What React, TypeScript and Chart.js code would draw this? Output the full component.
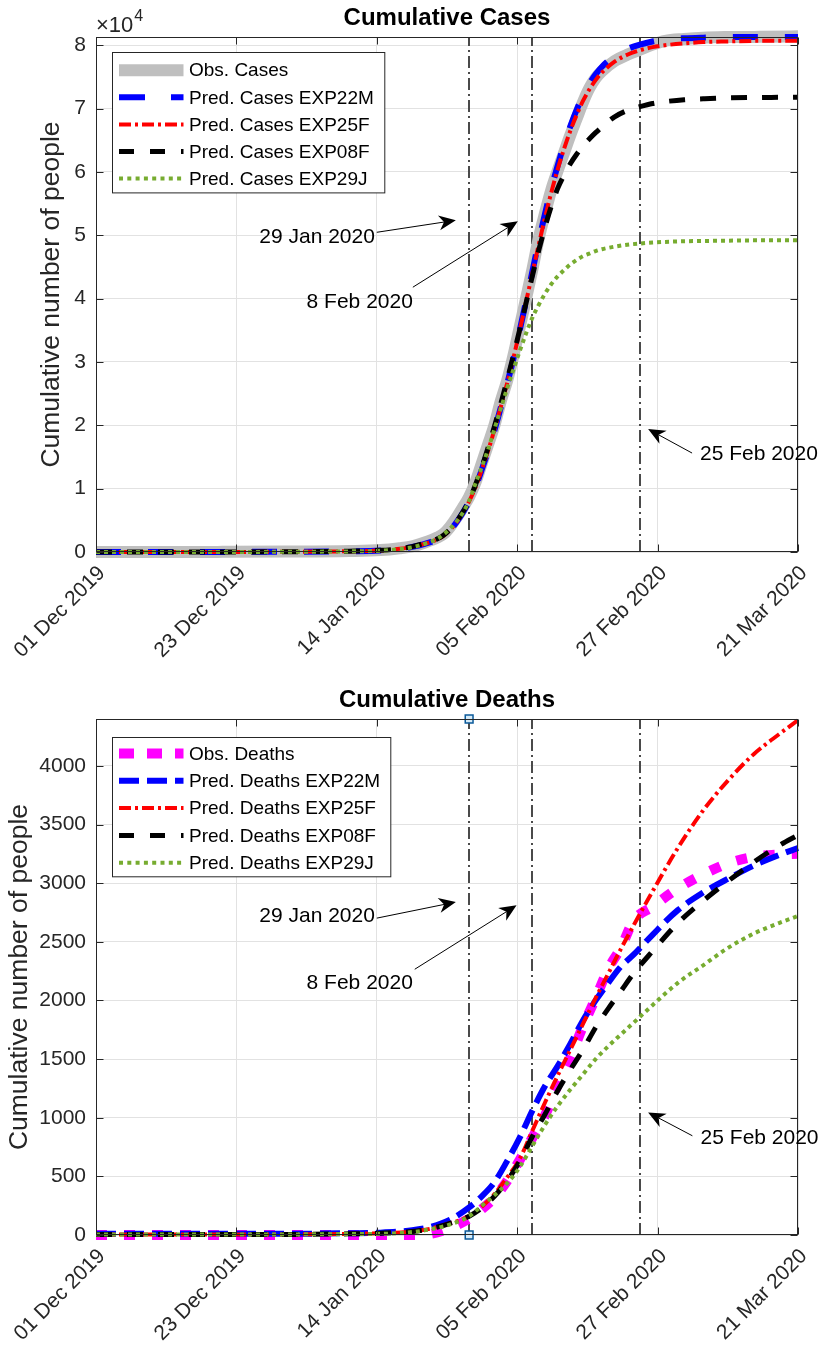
import React, { useEffect, useRef } from "react";
import { Chart, registerables } from "chart.js";

Chart.register(...registerables);

const FONT = '"Liberation Sans", Arial, Helvetica, sans-serif';
const AXIS = "#262626";
const GRID = "#e2e2e2";

// ---------------- data ----------------
const X_MAX_DAY = 111; // days after 01 Dec 2019
const X_TICK_LABELS = ["01 Dec 2019", "23 Dec 2019", "14 Jan 2020", "05 Feb 2020", "27 Feb 2020", "21 Mar 2020"];
const EVENT_DAYS = [59, 69, 86];
const EVENT_LABELS = ["29 Jan 2020", "8 Feb 2020", "25 Feb 2020"];

const CASE_DAYS = [0, 10, 20, 30, 40, 45, 48, 50, 52, 54, 55, 56, 57, 58, 59, 60, 61, 62, 63, 64, 65, 66, 67, 68, 69, 70, 71, 72, 73, 74, 75, 76, 77, 78, 79, 80, 82, 84, 86, 88, 90, 93, 96, 100, 105, 111];
const OBS_CASES = [0, 0, 20, 60, 150, 300, 600, 900, 1500, 2300, 2900, 4000, 5400, 7000, 8700, 11000, 14000, 17000, 20000, 23800, 27000, 31000, 35500, 40000, 44600, 49500, 53500, 57200, 60200, 63000, 65800, 68400, 71000, 73200, 74800, 75900, 77500, 78500, 79300, 80100, 80700, 81000, 81200, 81300, 81350, 81400];
const PRED_CASES_EXP22M = [0, 0, 10, 40, 120, 250, 500, 800, 1300, 2000, 2600, 3500, 4700, 6200, 8000, 10200, 13000, 16000, 19200, 22800, 26500, 30500, 35000, 39600, 44300, 49000, 53400, 57400, 61000, 64300, 67200, 69800, 72000, 73900, 75400, 76600, 78300, 79400, 80100, 80600, 80900, 81100, 81200, 81280, 81300, 81300];
const PRED_CASES_EXP25F = [0, 0, 10, 40, 120, 250, 500, 800, 1300, 2000, 2600, 3500, 4700, 6200, 8000, 10200, 13000, 16000, 19300, 22900, 26600, 30600, 35000, 39500, 44000, 48500, 52800, 56800, 60400, 63600, 66500, 69000, 71200, 73000, 74500, 75700, 77400, 78500, 79200, 79700, 80000, 80300, 80500, 80600, 80700, 80700];
const PRED_CASES_EXP08F = [0, 0, 10, 40, 130, 260, 520, 850, 1400, 2100, 2700, 3600, 4800, 6300, 8100, 10600, 13400, 16500, 19800, 23400, 27100, 31000, 35100, 39300, 43600, 47600, 51300, 54600, 57400, 59500, 61300, 62800, 64100, 65200, 66200, 67100, 68700, 69700, 70300, 70800, 71100, 71400, 71550, 71700, 71750, 71800];
const PRED_CASES_EXP29J = [0, 0, 10, 30, 100, 200, 450, 750, 1300, 2100, 2800, 3700, 4800, 6200, 8100, 10800, 13400, 16200, 19400, 22600, 25800, 28800, 31700, 34500, 37000, 39000, 40800, 42300, 43500, 44500, 45400, 46100, 46700, 47100, 47500, 47800, 48200, 48500, 48700, 48850, 48950, 49050, 49100, 49150, 49200, 49200];
const CASES_Y_MAX = 81300;
const CASES_Y_TICKS = [0, 10000, 20000, 30000, 40000, 50000, 60000, 70000, 80000];
const CASES_Y_TICK_LABELS = ["0", "1", "2", "3", "4", "5", "6", "7", "8"];

const DEATH_DAYS = [0, 10, 20, 30, 40, 45, 50, 53, 56, 59, 61, 63, 65, 67, 69, 71, 73, 75, 77, 79, 81, 83, 85, 88, 92, 96, 100, 104, 108, 111];
const OBS_DEATHS = [0, 0, 0, 0, 0, 0, 0, 10, 60, 140, 220, 320, 460, 640, 830, 1020, 1280, 1510, 1780, 2020, 2270, 2450, 2680, 2800, 2955, 3075, 3170, 3225, 3245, 3250];
const PRED_DEATHS_EXP22M = [10, 10, 10, 10, 15, 20, 40, 70, 130, 235, 330, 450, 630, 830, 1060, 1270, 1440, 1630, 1830, 2000, 2150, 2290, 2390, 2560, 2770, 2920, 3040, 3150, 3240, 3300];
const PRED_DEATHS_EXP25F = [5, 5, 5, 5, 10, 15, 30, 55, 100, 160, 240, 350, 490, 650, 890, 1130, 1360, 1580, 1800, 2020, 2230, 2440, 2640, 2930, 3300, 3620, 3880, 4100, 4270, 4390];
const PRED_DEATHS_EXP08F = [5, 5, 5, 5, 10, 15, 30, 55, 100, 160, 230, 330, 460, 630, 840, 1030, 1230, 1410, 1580, 1770, 1930, 2080, 2230, 2420, 2660, 2850, 3020, 3180, 3320, 3410];
const PRED_DEATHS_EXP29J = [5, 5, 5, 5, 8, 10, 25, 50, 90, 160, 250, 340, 440, 580, 760, 940, 1100, 1240, 1370, 1500, 1610, 1710, 1810, 1960, 2150, 2300, 2450, 2570, 2660, 2720];
const DEATHS_Y_MAX = 4400;
const DEATHS_Y_TICKS = [0, 500, 1000, 1500, 2000, 2500, 3000, 3500, 4000];
const DEATHS_Y_TICK_LABELS = ["0", "500", "1000", "1500", "2000", "2500", "3000", "3500", "4000"];
const MARKER_DAYS = [59, 59];
const MARKER_VALUES = [0, 4400];

// ---------------- styles ----------------
type Style = { color: string; width: number; dash: number[]; legendDash: number[] };
const S_OBS_CASES: Style = { color: "#bfbfbf", width: 12, dash: [], legendDash: [] };
const S_OBS_DEATHS: Style = { color: "#ff00ff", width: 10, dash: [11, 17], legendDash: [15, 13] };
const S_BLUE_C: Style = { color: "#0000ff", width: 6, dash: [25, 27], legendDash: [26, 26] };
const S_BLUE_D: Style = { color: "#0000ff", width: 6, dash: [20, 8], legendDash: [20, 8] };
const S_RED: Style = { color: "#ff0000", width: 4, dash: [12, 4, 3, 4], legendDash: [12, 4, 3, 4] };
const S_BLACK: Style = { color: "#000000", width: 5, dash: [16, 15], legendDash: [15, 16] };
const S_GREEN: Style = { color: "#77ac30", width: 4, dash: [4, 4], legendDash: [4, 4.3] };

type Arrow = { text: string; align: "left" | "right"; at: number[]; tail: number[]; tip: number[] };
const CASE_ARROWS: Arrow[] = [
  { text: EVENT_LABELS[0], align: "right", at: [44.1, 49700], tail: [44.4, 50470], tip: [56.9, 52370] },
  { text: EVENT_LABELS[1], align: "right", at: [50.1, 39430], tail: [50.1, 41800], tip: [66.7, 52200] },
  { text: EVENT_LABELS[2], align: "left", at: [95.5, 15460], tail: [94.25, 15620], tip: [87.3, 19400] },
];
const DEATH_ARROWS: Arrow[] = [
  { text: EVENT_LABELS[0], align: "right", at: [44.1, 2717], tail: [44.4, 2702], tip: [56.9, 2839] },
  { text: EVENT_LABELS[1], align: "right", at: [50.1, 2147], tail: [50.4, 2266], tip: [66.5, 2811] },
  { text: EVENT_LABELS[2], align: "left", at: [95.6, 826], tail: [94.3, 846], tip: [87.3, 1045] },
];

type Series = { label: string; days: number[]; values: number[]; style: Style };
type PanelSpec = {
  height: number;
  areaTop: number;
  xAxisHeight: number;
  title: string;
  yLabel: string;
  yLabelX: number;
  exponent: boolean;
  yMax: number;
  yTicks: number[];
  yTickLabels: string[];
  series: Series[];
  legend: { dx: number; dy: number; w: number; h: number; first: number; rowH: number };
  arrows: Arrow[];
  markers?: { days: number[]; values: number[] };
};

const CASES_SPEC: PanelSpec = {
  height: 675,
  areaTop: 37,
  xAxisHeight: 123,
  title: "Cumulative Cases",
  yLabel: "Cumulative number of people",
  yLabelX: 52,
  exponent: true,
  yMax: CASES_Y_MAX,
  yTicks: CASES_Y_TICKS,
  yTickLabels: CASES_Y_TICK_LABELS,
  series: [
    { label: "Obs. Cases", days: CASE_DAYS, values: OBS_CASES, style: S_OBS_CASES },
    { label: "Pred. Cases EXP22M", days: CASE_DAYS, values: PRED_CASES_EXP22M, style: S_BLUE_C },
    { label: "Pred. Cases EXP25F", days: CASE_DAYS, values: PRED_CASES_EXP25F, style: S_RED },
    { label: "Pred. Cases EXP08F", days: CASE_DAYS, values: PRED_CASES_EXP08F, style: S_BLACK },
    { label: "Pred. Cases EXP29J", days: CASE_DAYS, values: PRED_CASES_EXP29J, style: S_GREEN },
  ],
  legend: { dx: 15.7, dy: 15.3, w: 272.3, h: 140.4, first: 17.7, rowH: 27.1 },
  arrows: CASE_ARROWS,
};

const DEATHS_SPEC: PanelSpec = {
  height: 672,
  areaTop: 44,
  xAxisHeight: 112,
  title: "Cumulative Deaths",
  yLabel: "Cumulative number of people",
  yLabelX: 20,
  exponent: false,
  yMax: DEATHS_Y_MAX,
  yTicks: DEATHS_Y_TICKS,
  yTickLabels: DEATHS_Y_TICK_LABELS,
  series: [
    { label: "Obs. Deaths", days: DEATH_DAYS, values: OBS_DEATHS, style: S_OBS_DEATHS },
    { label: "Pred. Deaths EXP22M", days: DEATH_DAYS, values: PRED_DEATHS_EXP22M, style: S_BLUE_D },
    { label: "Pred. Deaths EXP25F", days: DEATH_DAYS, values: PRED_DEATHS_EXP25F, style: S_RED },
    { label: "Pred. Deaths EXP08F", days: DEATH_DAYS, values: PRED_DEATHS_EXP08F, style: S_BLACK },
    { label: "Pred. Deaths EXP29J", days: DEATH_DAYS, values: PRED_DEATHS_EXP29J, style: S_GREEN },
  ],
  legend: { dx: 15.7, dy: 17.7, w: 278.3, h: 139.3, first: 16, rowH: 27.3 },
  arrows: DEATH_ARROWS,
  markers: { days: MARKER_DAYS, values: MARKER_VALUES },
};

// ---------------- drawing helpers ----------------
function drawArrow(ctx: CanvasRenderingContext2D, x0: number, y0: number, x1: number, y1: number) {
  const ang = Math.atan2(y1 - y0, x1 - x0);
  const c = Math.cos(ang);
  const s = Math.sin(ang);
  const L = 17, W = 7.5, N = 12;
  const pt = (u: number, v: number) => [x1 - u * c - v * s, y1 - u * s + v * c];
  ctx.save();
  ctx.setLineDash([]);
  ctx.strokeStyle = "#000";
  ctx.lineWidth = 1;
  const b = pt(N, 0);
  ctx.beginPath();
  ctx.moveTo(x0, y0);
  ctx.lineTo(b[0], b[1]);
  ctx.stroke();
  ctx.fillStyle = "#000";
  ctx.beginPath();
  ctx.moveTo(x1, y1);
  let p = pt(L, W);
  ctx.lineTo(p[0], p[1]);
  p = pt(N, 0);
  ctx.lineTo(p[0], p[1]);
  p = pt(L, -W);
  ctx.lineTo(p[0], p[1]);
  ctx.closePath();
  ctx.fill();
  ctx.restore();
}

function decorPlugin(spec: PanelSpec) {
  return {
    id: "decor",
    beforeDatasetsDraw(chart: any) {
      const { ctx, chartArea: a, scales } = chart;
      const x = scales.x;
      ctx.save();
      ctx.beginPath();
      ctx.rect(a.left, a.top, a.right - a.left, a.bottom - a.top);
      ctx.clip();
      ctx.strokeStyle = "#4a4a4a";
      ctx.lineWidth = 2;
      ctx.setLineDash([12, 4, 2, 4]);
      for (const d of EVENT_DAYS) {
        const px = Math.round(x.getPixelForValue(d));
        ctx.beginPath();
        ctx.moveTo(px, a.bottom);
        ctx.lineTo(px, a.top);
        ctx.stroke();
      }
      ctx.restore();
    },
    afterDatasetsDraw(chart: any) {
      const { ctx, chartArea: a, scales } = chart;
      const x = scales.x;
      const y = scales.y;
      ctx.save();
      // axes box
      ctx.setLineDash([]);
      ctx.strokeStyle = AXIS;
      ctx.lineWidth = 1;
      const L = Math.round(a.left) + 0.5, R = Math.round(a.right) - 0.5;
      const T = Math.round(a.top) + 0.5, B = Math.round(a.bottom) - 0.5;
      ctx.strokeRect(L, T, R - L, B - T);
      // inward ticks
      const tl = 7;
      ctx.beginPath();
      for (const t of x.ticks) {
        const px = Math.round(x.getPixelForValue(t.value)) + 0.5;
        ctx.moveTo(px, B); ctx.lineTo(px, B - tl);
        ctx.moveTo(px, T); ctx.lineTo(px, T + tl);
      }
      for (const t of y.ticks) {
        const py = Math.round(y.getPixelForValue(t.value)) + 0.5;
        ctx.moveTo(L, py); ctx.lineTo(L + tl, py);
        ctx.moveTo(R, py); ctx.lineTo(R - tl, py);
      }
      ctx.stroke();

      // annotations
      ctx.font = `21px ${FONT}`;
      ctx.fillStyle = "#000";
      ctx.textBaseline = "middle";
      for (const ar of spec.arrows) {
        drawArrow(
          ctx,
          x.getPixelForValue(ar.tail[0]), y.getPixelForValue(ar.tail[1]),
          x.getPixelForValue(ar.tip[0]), y.getPixelForValue(ar.tip[1])
        );
        ctx.textAlign = ar.align;
        ctx.fillStyle = "#000";
        ctx.font = `21px ${FONT}`;
        ctx.textBaseline = "middle";
        ctx.fillText(ar.text, x.getPixelForValue(ar.at[0]), y.getPixelForValue(ar.at[1]));
      }

      // legend
      const lg = spec.legend;
      const bx = Math.round(a.left + lg.dx) + 0.5;
      const by = Math.round(a.top + lg.dy) + 0.5;
      ctx.fillStyle = "#fff";
      ctx.fillRect(bx, by, lg.w, lg.h);
      ctx.strokeStyle = AXIS;
      ctx.lineWidth = 1;
      ctx.setLineDash([]);
      ctx.strokeRect(bx, by, lg.w, lg.h);
      spec.series.forEach((s, i) => {
        const yy = by + lg.first + i * lg.rowH;
        ctx.save();
        ctx.strokeStyle = s.style.color;
        ctx.lineWidth = s.style.width;
        ctx.lineCap = "butt";
        ctx.setLineDash(s.style.legendDash);
        ctx.beginPath();
        ctx.moveTo(bx + 6.5, yy);
        ctx.lineTo(bx + 71, yy);
        ctx.stroke();
        ctx.restore();
        ctx.fillStyle = "#000";
        ctx.font = `19px ${FONT}`;
        ctx.textAlign = "left";
        ctx.textBaseline = "middle";
        ctx.fillText(s.label, bx + 76.5, yy + 1);
      });

      // title
      ctx.fillStyle = "#000";
      ctx.font = `bold 24px ${FONT}`;
      ctx.textAlign = "center";
      ctx.textBaseline = "middle";
      ctx.fillText(spec.title, (a.left + a.right) / 2, a.top - 18.5);

      // y label
      ctx.save();
      ctx.translate(spec.yLabelX, (a.top + a.bottom) / 2);
      ctx.rotate(-Math.PI / 2);
      ctx.fillStyle = AXIS;
      ctx.font = `26.5px ${FONT}`;
      ctx.textAlign = "center";
      ctx.textBaseline = "middle";
      ctx.fillText(spec.yLabel, 0, 0);
      ctx.restore();

      // exponent
      if (spec.exponent) {
        ctx.fillStyle = AXIS;
        ctx.textAlign = "left";
        ctx.textBaseline = "alphabetic";
        ctx.font = `22px ${FONT}`;
        const base = "\u00d710";
        ctx.fillText(base, a.left, a.top - 5);
        const w = ctx.measureText(base).width;
        ctx.font = `16px ${FONT}`;
        ctx.fillText("4", a.left + w + 1, a.top - 16);
      }
      ctx.restore();
    },
  };
}

function buildConfig(spec: PanelSpec): any {
  const datasets: any[] = spec.series.map((s, i) => ({
    label: s.label,
    data: s.days.map((d, j) => ({ x: d, y: s.values[j] })),
    borderColor: s.style.color,
    backgroundColor: s.style.color,
    borderWidth: s.style.width,
    borderDash: s.style.dash,
    borderCapStyle: "butt",
    borderJoinStyle: "round",
    pointRadius: 0,
    pointHoverRadius: 0,
    fill: false,
    cubicInterpolationMode: "monotone",
    clip: 8,
    order: 10 - i,
  }));
  if (spec.markers) {
    const m = spec.markers;
    datasets.push({
      label: "markers",
      data: m.days.map((d, j) => ({ x: d, y: m.values[j] })),
      showLine: false,
      pointStyle: "rect",
      pointRadius: 5.5,
      pointBackgroundColor: "#d6ebf8",
      pointBorderColor: "#0b5a9a",
      pointBorderWidth: 1.5,
      clip: false,
      order: -1,
    });
  }
  const tickFont = { size: 21, family: FONT };
  return {
    type: "line",
    data: { datasets },
    options: {
      responsive: false,
      animation: false,
      devicePixelRatio: 1,
      events: [],
      layout: { padding: { top: spec.areaTop, right: 27, left: 0, bottom: 0 } },
      plugins: { legend: { display: false }, tooltip: { enabled: false }, title: { display: false } },
      scales: {
        x: {
          type: "linear",
          min: 0,
          max: X_MAX_DAY,
          grid: { color: GRID, drawTicks: false, lineWidth: 1 },
          border: { display: false },
          afterBuildTicks: (s: any) => {
            s.ticks = X_TICK_LABELS.map((_, i) => ({ value: (i * X_MAX_DAY) / (X_TICK_LABELS.length - 1) }));
          },
          afterFit: (s: any) => {
            s.height = spec.xAxisHeight;
            s.paddingLeft = 0;
            s.paddingRight = 0;
          },
          ticks: {
            autoSkip: false,
            minRotation: 45,
            maxRotation: 45,
            padding: 9,
            labelOffset: 6,
            color: AXIS,
            font: tickFont,
            callback: (_v: any, i: number) => X_TICK_LABELS[i],
          },
        },
        y: {
          type: "linear",
          min: 0,
          max: spec.yMax,
          grid: { color: GRID, drawTicks: false, lineWidth: 1 },
          border: { display: false },
          afterBuildTicks: (s: any) => {
            s.ticks = spec.yTicks.map((v) => ({ value: v }));
          },
          afterFit: (s: any) => {
            s.width = 96;
            s.paddingTop = 0;
            s.paddingBottom = 0;
          },
          ticks: {
            padding: 10,
            color: AXIS,
            font: tickFont,
            callback: (_v: any, i: number) => spec.yTickLabels[i],
          },
        },
      },
    },
    plugins: [decorPlugin(spec)],
  };
}

function Panel({ spec }: { spec: PanelSpec }) {
  const ref = useRef<HTMLCanvasElement>(null);
  useEffect(() => {
    const chart = new Chart(ref.current as HTMLCanvasElement, buildConfig(spec));
    return () => chart.destroy();
  }, [spec]);
  return (
    <canvas
      ref={ref}
      width={825}
      height={spec.height}
      style={{ display: "block", width: 825, height: spec.height }}
    />
  );
}

export default function App() {
  return (
    <div style={{ position: "absolute", left: 0, top: 0, width: 825, height: 1347, background: "#fff" }}>
      <Panel spec={CASES_SPEC} />
      <Panel spec={DEATHS_SPEC} />
    </div>
  );
}
